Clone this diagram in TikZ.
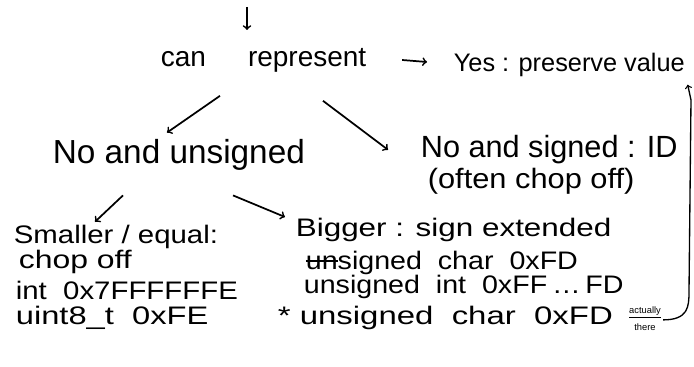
\documentclass[tikz,border=0pt]{standalone}
\usepackage{fontspec}
\setmainfont{Liberation Sans}
\usetikzlibrary{positioning}
\newcommand\strk[1]{\setbox0\hbox{#1}\rlap{\copy0}\rule[0.3em]{\wd0}{1.6pt}}
\newcommand\wide[2]{\scalebox{#1}[1]{#2}}
\begin{document}
\begin{tikzpicture}[x=0.75pt,y=-0.75pt,line width=1.3pt,
  hand/.style={font=\fontsize{#1}{#1}\selectfont,inner sep=0pt,anchor=west},
  row/.style={hand=#1,text height=0.75em,text depth=0.2em},
  note/.style={font=\fontsize{7}{8}\selectfont,inner sep=1pt}]
\useasboundingbox (0,0) rectangle (694,367);
% question and answers
\node[hand=21] (can) at (160,60) {can\hspace{1.5em}represent};
\node[hand=19] (yes) at (453,65) {Yes : preserve value};
\node[hand=25] (nou) at (52,155) {No and unsigned};
\node[row=23] (nos) at (420,154) {No and signed : ID};
\node[row=21] (often) at (427,185) {\wide{1.1}{(often chop off)}};
% unsigned branch
\node[row=19] (small) at (13,240) {\wide{1.16}{Smaller / equal:}};
\node[row=19] (chop) at (18,265) {\wide{1.26}{chop off}};
\node[row=19] (int) at (15,296) {\wide{1.16}{int\ \ 0x7FFFFFFE}};
\node[row=19] (uint) at (15,321) {\wide{1.29}{uint8\_t\ \ 0xFE}};
\node[row=19] (bigger) at (295,233) {\wide{1.24}{Bigger : sign extended}};
\node[row=19] (sch) at (305,266) {\wide{1.13}{\strk{un}signed\ \ char\ \ 0xFD}};
\node[row=19] (uin) at (303,290) {\wide{1.13}{unsigned\ \ int\ \ 0xFF\,\dots\,FD}};
\node[row=19] (uch) at (277,321) {\wide{1.3}{* unsigned\ \ char\ \ 0xFD}};
\node[note,anchor=west] (act) at (627,312) {\underline{actually}};
\node[note,below=1pt of act] (there) {there};
% arrows
\coordinate (top) at (247,7);
\draw[->] (top) -- ++(0,23);
\draw[->] ([shift={(35,0)}]can.east) -- ([shift={(-26,-3)}]yes.west);
\draw[->] ([shift={(60,23)}]can.south west) -- ([shift={(115,-6)}]nou.north west);
\draw[->] ([shift={(163,28)}]can.south west) -- ([shift={(-32,3)}]nos.north west);
\draw[->] ([shift={(71,24)}]nou.south west) -- ([shift={(82,-11)}]small.north west);
\draw[->] ([shift={(181,24)}]nou.south west) -- ([shift={(-10,-16)}]bigger.west);
\coordinate (low) at (689,292);
\coordinate (high) at (691,100);
\draw[->,line width=1pt] (act.south east) .. controls +(25,0) and +(0,15) .. (low) -- (high) -- ([shift={(2,7)}]yes.south east);
\end{tikzpicture}
\end{document}
